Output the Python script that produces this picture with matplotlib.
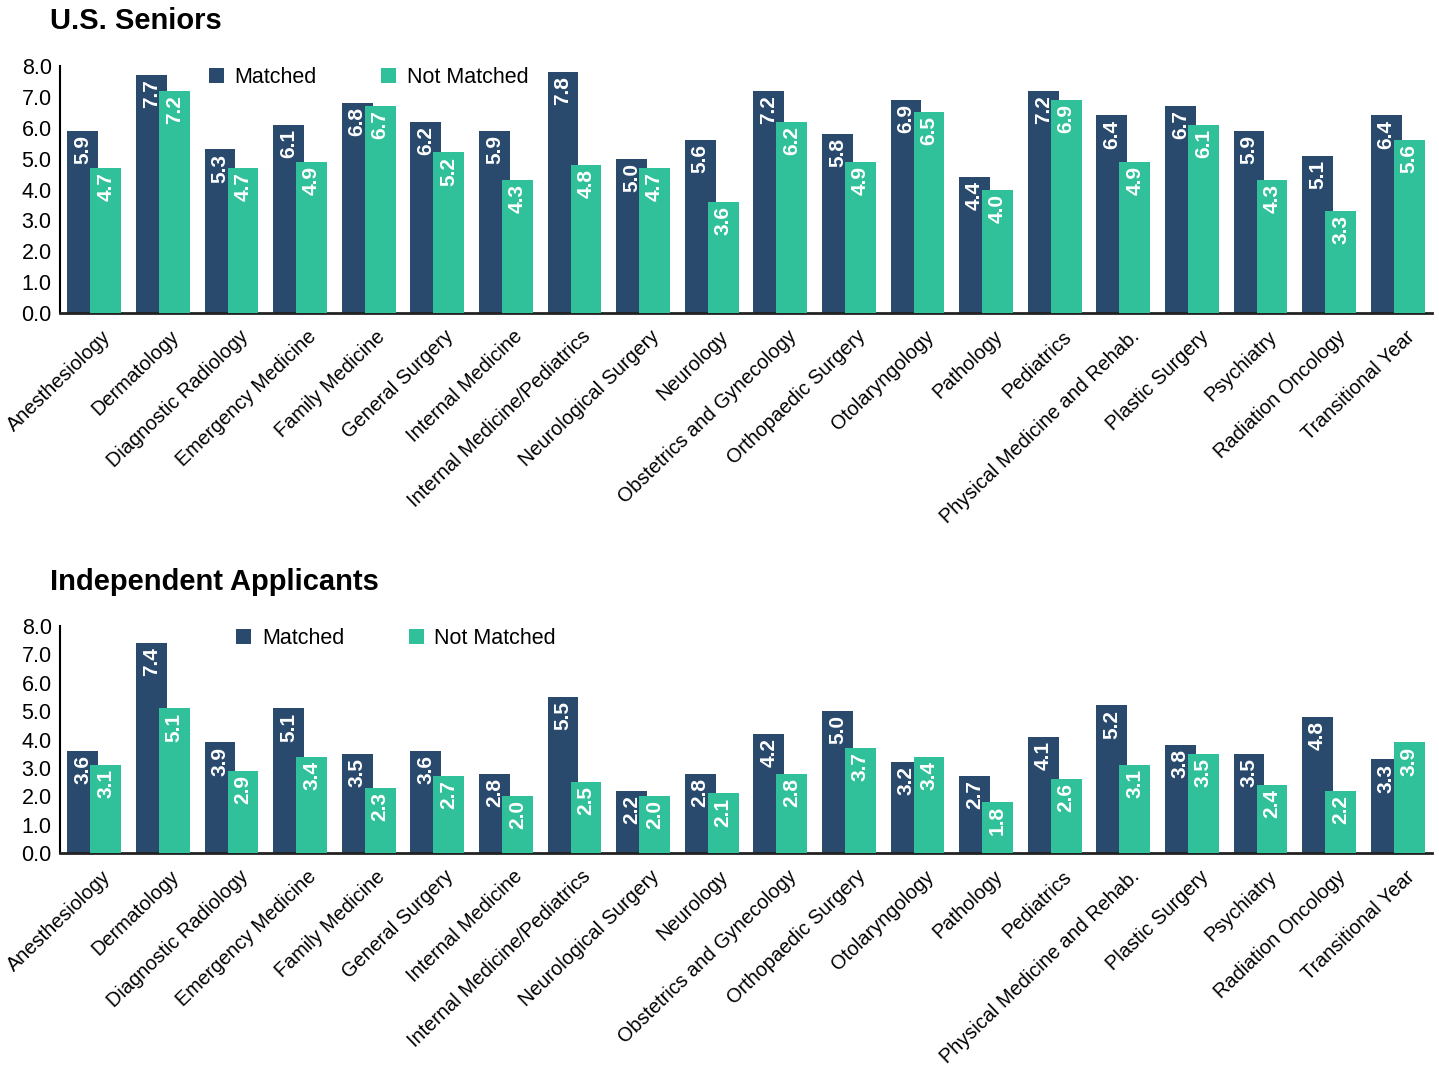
import numpy as np
import matplotlib
matplotlib.use("Agg")
import matplotlib.pyplot as plt
import matplotlib.transforms as mtransforms

plt.rcParams["font.family"] = ["Liberation Sans", "DejaVu Sans"]

specialties = ["Anesthesiology", "Dermatology", "Diagnostic Radiology",
               "Emergency Medicine", "Family Medicine", "General Surgery",
               "Internal Medicine", "Internal Medicine/Pediatrics",
               "Neurological Surgery", "Neurology", "Obstetrics and Gynecology",
               "Orthopaedic Surgery", "Otolaryngology", "Pathology", "Pediatrics",
               "Physical Medicine and Rehab.", "Plastic Surgery", "Psychiatry",
               "Radiation Oncology", "Transitional Year"]

seniors_matched = [5.9, 7.7, 5.3, 6.1, 6.8, 6.2, 5.9, 7.8, 5.0, 5.6,
                   7.2, 5.8, 6.9, 4.4, 7.2, 6.4, 6.7, 5.9, 5.1, 6.4]
seniors_not = [4.7, 7.2, 4.7, 4.9, 6.7, 5.2, 4.3, 4.8, 4.7, 3.6,
               6.2, 4.9, 6.5, 4.0, 6.9, 4.9, 6.1, 4.3, 3.3, 5.6]

indep_matched = [3.6, 7.4, 3.9, 5.1, 3.5, 3.6, 2.8, 5.5, 2.2, 2.8,
                 4.2, 5.0, 3.2, 2.7, 4.1, 5.2, 3.8, 3.5, 4.8, 3.3]
indep_not = [3.1, 5.1, 2.9, 3.4, 2.3, 2.7, 2.0, 2.5, 2.0, 2.1,
             2.8, 3.7, 3.4, 1.8, 2.6, 3.1, 3.5, 2.4, 2.2, 3.9]

yticks = [0, 1, 2, 3, 4, 5, 6, 7, 8]

NAVY = "#29496d"
GREEN = "#31c19a"

W, H = 1439, 1074
fig = plt.figure(figsize=(W / 100, H / 100), dpi=100)


def draw_panel(rect, title, title_y, matched, not_matched, legend_x):
    ax = fig.add_axes(rect)
    x = np.arange(len(specialties))
    b1 = ax.bar(x - 0.1675, matched, width=0.45, color=NAVY, label="Matched", zorder=2)
    b2 = ax.bar(x + 0.1675, not_matched, width=0.45, color=GREEN, label="Not Matched", zorder=3)

    for bars, vals, z in [(b1, matched, 4), (b2, not_matched, 5)]:
        for rect_, v in zip(bars, vals):
            ax.annotate(f"{v:.1f}", (rect_.get_x() + rect_.get_width() / 2, v),
                        xytext=(0, -3), textcoords="offset points",
                        ha="center", va="top", rotation=90, color="white",
                        fontsize=15, fontweight="bold", zorder=z)

    ax.set_xlim(-0.5, len(specialties) - 0.5)
    ax.set_ylim(0, 8)
    ax.set_yticks(yticks)
    ax.set_yticklabels([f"{t:.1f}" for t in yticks], fontsize=15.5)
    ax.set_xticks(x)
    ax.set_xticklabels(specialties, rotation=44, ha="right",
                       rotation_mode="anchor", fontsize=14.3)
    ax.tick_params(axis="both", length=0, pad=6)
    ax.tick_params(axis="x", pad=10)
    # nudge category labels to the right like the original
    shift = mtransforms.ScaledTranslation(7 / 100, 0, fig.dpi_scale_trans)
    for lbl in ax.get_xticklabels():
        lbl.set_transform(lbl.get_transform() + shift)
    for s in ["top", "right"]:
        ax.spines[s].set_visible(False)
    ax.spines["left"].set_linewidth(1.5)
    ax.spines["bottom"].set_linewidth(2)
    ax.spines["bottom"].set_color("#222222")

    ax.legend(loc="upper left", bbox_to_anchor=(legend_x, 1.03), ncol=2,
              frameon=False, fontsize=15.5, handlelength=0.7, handleheight=0.7,
              handletextpad=0.5, columnspacing=3.0, borderaxespad=0)

    fig.text(50 / W, 1 - title_y / H, title, fontsize=21, fontweight="bold",
             va="center", ha="left")
    return ax


draw_panel([60 / W, 1 - 313 / H, (1432 - 60) / W, (313 - 66) / H],
           "U.S. Seniors", 21, seniors_matched, seniors_not, 0.102)
draw_panel([60 / W, 1 - 853 / H, (1432 - 60) / W, (853 - 626) / H],
           "Independent Applicants", 582, indep_matched, indep_not, 0.122)

fig.savefig("out.png", dpi=100)
